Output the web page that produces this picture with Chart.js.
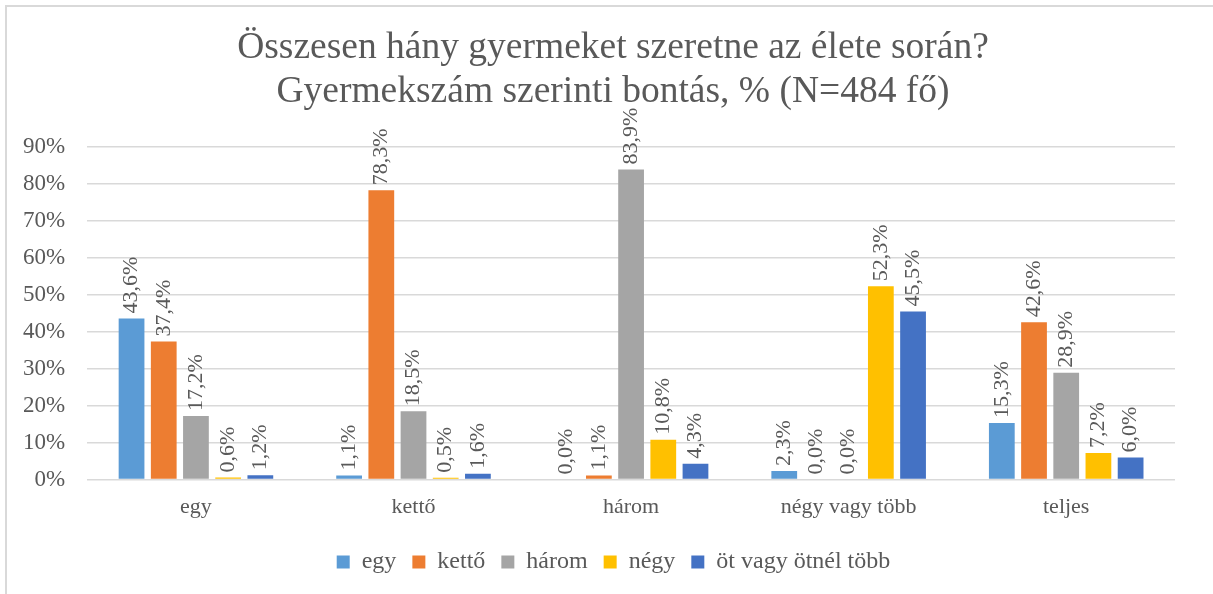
<!DOCTYPE html>
<html>
<head>
<meta charset="utf-8">
<script src="https://cdn.jsdelivr.net/npm/chart.js@4"></script>
<style>
  html, body { margin: 0; padding: 0; background: #fff; overflow: hidden; }
  #wrap { position: absolute; left: 0; top: 0; width: 1226px; height: 594px; }
  #frame { position: absolute; left: 5px; top: 5px; width: 1220px; height: 600px; border-left: 2px solid #d9d9d9; border-top: 2px solid #d9d9d9; pointer-events: none; }
</style>
</head>
<body>
<div id="wrap"><canvas id="chart"></canvas></div>
<div id="frame"></div>
<script>
const categories = ["egy", "kettő", "három", "négy vagy több", "teljes"]
const seriesNames = ["egy", "kettő", "három", "négy", "öt vagy ötnél több"]
const seriesColors = ["#5B9BD5", "#ED7D31", "#A5A5A5", "#FFC000", "#4472C4"]
const egy = [43.6, 1.1, 0.0, 2.3, 15.3]
const ketto = [37.4, 78.3, 1.1, 0.0, 42.6]
const harom = [17.2, 18.5, 83.9, 0.0, 28.9]
const negy = [0.6, 0.5, 10.8, 52.3, 7.2]
const ot = [1.2, 1.6, 4.3, 45.5, 6.0]
const seriesValues = [egy, ketto, harom, negy, ot]
const titleLines = ["Összesen hány gyermeket szeretne az élete során?", "Gyermekszám szerinti bontás, % (N=484 fő)"]

const FONT = "'Liberation Serif', 'Times New Roman', serif"
const TEXT = "#595959"

// title centred on the whole chart box, drawn before the marks
const chartTitle = {
  id: "chartTitle",
  beforeDraw(chart) {
    const ctx = chart.ctx
    ctx.save()
    ctx.font = "37.5px " + FONT
    ctx.fillStyle = TEXT
    ctx.textAlign = "center"
    ctx.textBaseline = "middle"
    titleLines.forEach((line, i) => ctx.fillText(line, chart.width / 2, 48 + i * 44))
    ctx.restore()
  }
}

// rotated value labels above each bar
const barLabels = {
  id: "barLabels",
  afterDraw(chart) {
    const ctx = chart.ctx
    ctx.save()
    ctx.font = "22px " + FONT
    ctx.fillStyle = TEXT
    ctx.textAlign = "left"
    ctx.textBaseline = "middle"
    chart.data.datasets.forEach((ds, i) => {
      chart.getDatasetMeta(i).data.forEach((bar, j) => {
        const txt = ds.data[j].toFixed(1).replace(".", ",") + "%"
        ctx.save()
        ctx.translate(bar.x, bar.y - 5)
        ctx.rotate(-Math.PI / 2)
        ctx.fillText(txt, 0, 0)
        ctx.restore()
      })
    })
    ctx.restore()
  }
}

new Chart(document.getElementById("chart"), {
  type: "bar",
  data: {
    labels: categories,
    datasets: seriesNames.map((name, i) => ({
      label: name,
      data: seriesValues[i],
      backgroundColor: seriesColors[i],
      categoryPercentage: 0.74,
      barPercentage: 0.8
    }))
  },
  options: {
    responsive: true,
    maintainAspectRatio: false,
    animation: false,
    layout: { padding: { left: 1, right: 0, top: 147, bottom: 10 } },
    plugins: {
      title: { display: false },
      legend: {
        position: "bottom",
        labels: {
          color: TEXT,
          font: { family: FONT, size: 24 },
          boxWidth: 13,
          boxHeight: 13,
          padding: 16
        }
      },
      tooltip: { enabled: false }
    },
    scales: {
      x: {
        grid: { display: false },
        border: { display: false },
        ticks: { color: TEXT, font: { family: FONT, size: 22 }, padding: 6 },
        afterFit: s => { s.height += 8 }
      },
      y: {
        min: 0,
        max: 90,
        ticks: { stepSize: 10, color: TEXT, font: { family: FONT, size: 23 }, padding: 22, callback: v => v + "%" },
        grid: { color: "#d9d9d9", lineWidth: 1.5, drawTicks: false },
        border: { display: false }
      },
      // empty spacer on the right so the plot ends where the reference does
      spacer: {
        type: "linear",
        position: "right",
        grid: { display: false },
        border: { display: false },
        ticks: { display: false },
        afterFit: s => { s.width = 51 }
      }
    }
  },
  plugins: [chartTitle, barLabels]
})
</script>
</body>
</html>
